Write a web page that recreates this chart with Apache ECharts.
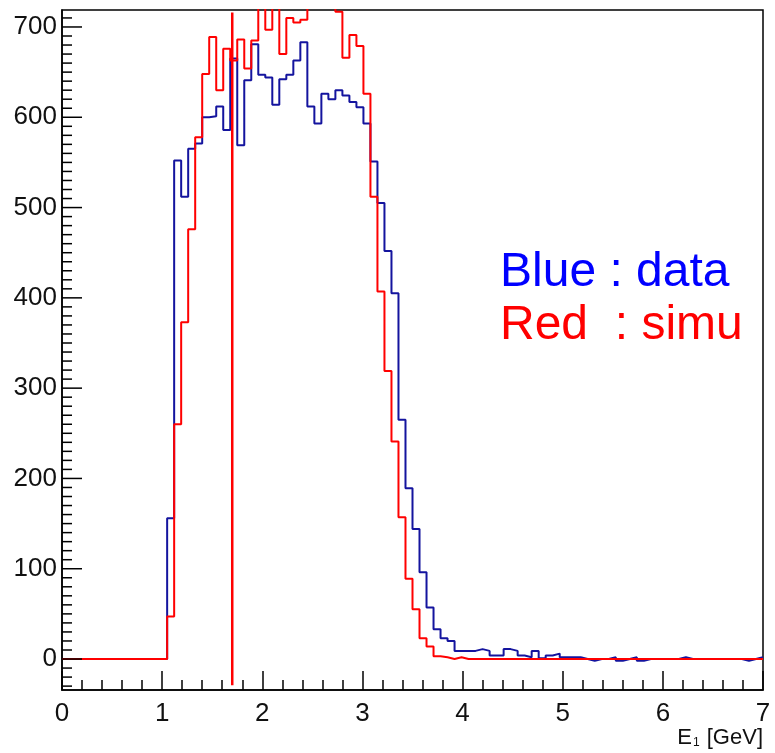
<!DOCTYPE html>
<html>
<head>
<meta charset="utf-8">
<script src="https://cdn.jsdelivr.net/npm/echarts@6/dist/echarts.min.js"></script>
<style>
  html, body { margin: 0; padding: 0; background: #fff; }
  #chart { width: 775px; height: 753px; }
</style>
</head>
<body>
<div id="chart"></div>
<script>
// histogram binning: 100 bins of 0.07 GeV from 0 to 7
const binLow = 0;
const binWidth = 0.07;
const nBins = 100;

// bin contents (bins above the frame are clipped)
const dataCounts = [
  0, 0, 0, 0, 0, 0, 0, 0, 0, 0,
  0, 0, 0, 0, 0, 156, 552, 512, 565, 571,
  600, 601, 612, 586, 665, 569, 641, 681, 647, 644,
  614, 642, 647, 663, 683, 612, 593, 626, 620, 630,
  624, 617, 611, 593, 551, 505, 452, 405, 265, 189,
  144, 96, 57, 33, 23, 20, 9, 9, 9, 11,
  9, 4, 4, 11, 9, 4, 2, 9, 1, 4,
  6, 2, 2, 2, 0, -2, 0, 0, 2, -2,
  0, 2, -2, 0, 0, 0, 0, 0, 2, 0,
  0, 0, 0, 0, 0, 0, 0, -2, 0, 2
];
const simuCounts = [
  0, 0, 0, 0, 0, 0, 0, 0, 0, 0,
  0, 0, 0, 0, 0, 47, 260, 373, 476, 578,
  648, 689, 630, 676, 663, 686, 654, 685, 725, 697,
  735, 670, 710, 705, 708, 740, 750, 745, 735, 717,
  666, 691, 679, 626, 512, 407, 319, 241, 157, 89,
  55, 23, 14, 3, 2, 0, 2, 0, 0, 0,
  0, 0, 0, 0, 0, 0, 0, 0, 0, 0,
  0, 0, 0, 0, 0, 0, 0, 0, 0, 0,
  0, 0, 0, 0, 0, 0, 0, 0, 0, 0,
  0, 0, 0, 0, 0, 0, 0, 0, 0, 0
];

// vertical cut line
const cutX = 1.70;
const cutYLow = -29;
const cutYHigh = 716;

// axes ranges and y tick values
const xMin = 0, xMax = 7;
const yMin = -34.3, yMax = 718.8;
const yMajorStep = 100;
const yTickValues = [];
for (let v = -30; v <= 710; v += 10) yTickValues.push(v);

const FONT = '"Liberation Sans", Arial, Helvetica, sans-serif';
const BLACK = '#000';

// step line points: left edge of each bin, plus the right edge of the last one
function histPoints(counts) {
  const pts = counts.map((c, i) => [binLow + i * binWidth, c]);
  pts.push([binLow + nBins * binWidth, counts[counts.length - 1]]);
  return pts;
}

// y ticks drawn through the y scale, pointing into the frame
function renderYTick(params, api) {
  const p = api.coord([xMin, api.value(1)]);
  const len = api.value(1) % yMajorStep === 0 ? 20 : 10;
  return {
    type: 'line',
    shape: { x1: p[0], y1: p[1], x2: p[0] + len, y2: p[1] },
    style: { stroke: BLACK, lineWidth: 1.5 }
  };
}

const chart = echarts.init(document.getElementById('chart'));

chart.setOption({
  backgroundColor: '#ffffff',
  animation: false,
  grid: {
    left: 62, right: 12, top: 10, bottom: 63,
    show: true, borderColor: BLACK, borderWidth: 1.5
  },
  xAxis: {
    type: 'value',
    min: xMin, max: xMax, interval: 1,
    axisLine: { onZero: false, lineStyle: { color: BLACK, width: 1.5 } },
    axisTick: { inside: true, length: 19, lineStyle: { color: BLACK, width: 1.5 } },
    minorTick: { show: true, splitNumber: 5, length: 10, lineStyle: { color: BLACK, width: 1.5 } },
    axisLabel: { color: '#111', fontSize: 26, fontFamily: FONT, margin: 11 },
    splitLine: { show: false }
  },
  yAxis: {
    type: 'value',
    min: yMin, max: yMax,
    minInterval: yMajorStep, maxInterval: yMajorStep,
    axisLine: { show: true, onZero: false, lineStyle: { color: BLACK, width: 1.5 } },
    axisTick: { show: false },
    axisLabel: {
      color: '#111', fontSize: 26, fontFamily: FONT, margin: 5,
      showMinLabel: false, showMaxLabel: false
    },
    splitLine: { show: false }
  },
  series: [{
    name: 'yticks',
    type: 'custom',
    silent: true,
    renderItem: renderYTick,
    data: yTickValues.map(v => [xMin, v]),
    z: 5
  }, {
    name: 'data',
    type: 'line',
    step: 'end',
    symbol: 'none',
    clip: true,
    lineStyle: { color: '#14149e', width: 2 },
    data: histPoints(dataCounts)
  }, {
    name: 'simu',
    type: 'line',
    step: 'end',
    symbol: 'none',
    clip: true,
    lineStyle: { color: '#ff0000', width: 2 },
    data: histPoints(simuCounts)
  }, {
    name: 'cut',
    type: 'line',
    symbol: 'none',
    lineStyle: { color: '#ff0000', width: 2.5 },
    data: [[cutX, cutYLow], [cutX, cutYHigh]]
  }],
  graphic: [{
    type: 'text', x: 500, y: 273,
    style: { text: 'Blue : data', fill: '#0000ff', font: '48px ' + FONT, verticalAlign: 'middle' }
  }, {
    type: 'text', x: 500, y: 326,
    style: { text: 'Red  : simu', fill: '#ff0000', font: '48px ' + FONT, verticalAlign: 'middle' }
  }, {
    type: 'text', x: 763, y: 738,
    style: {
      text: 'E{s|1} [GeV]',
      align: 'right', verticalAlign: 'middle',
      fill: '#111', font: '22px ' + FONT,
      rich: { s: { fontSize: 12, fontFamily: FONT, fill: '#111', verticalAlign: 'bottom', padding: [10, 1, 0, 1] } }
    }
  }]
});
</script>
</body>
</html>
